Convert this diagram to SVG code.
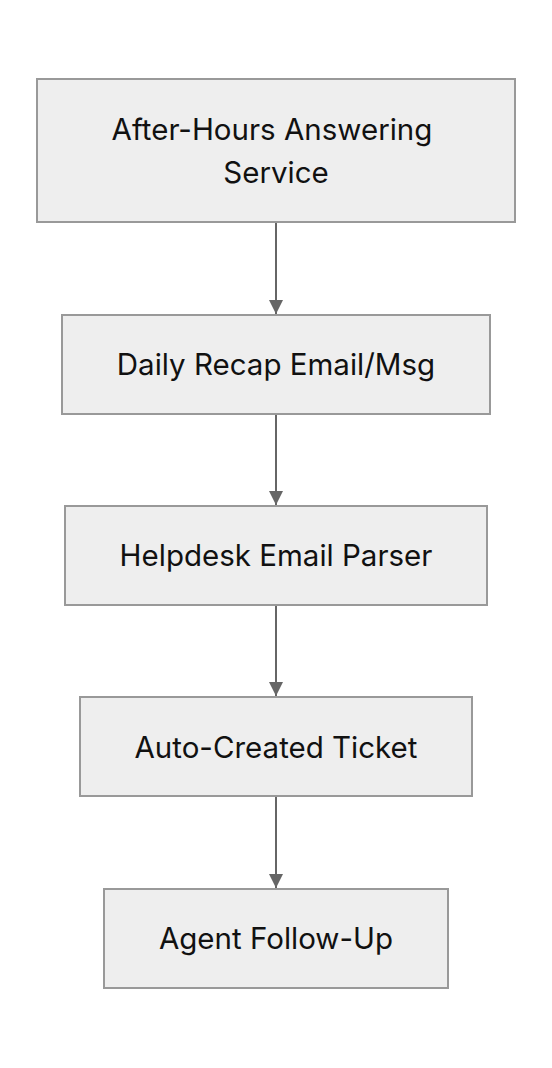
<svg xmlns="http://www.w3.org/2000/svg" width="552" height="1068" viewBox="0 0 552 1068">
<style>
.box{fill:#eeeeee;stroke:#999999;stroke-width:2}
.lbl{font-family:Inter,"Noto Sans",sans-serif;font-size:29.5px;fill:#111111;text-anchor:middle;dominant-baseline:central}
.edge{stroke:#666666;stroke-width:2;fill:none}
.head{fill:#666666}
</style>
<rect width="552" height="1068" fill="#ffffff"/>
<g id="connectors">
<path class="edge" d="M276,223 V314"/>
<path class="edge" d="M276,415 V505"/>
<path class="edge" d="M276,606 V696"/>
<path class="edge" d="M276,797 V888"/>
<polygon class="head" points="269,300 283,300 276,314"/>
<polygon class="head" points="269,491 283,491 276,505"/>
<polygon class="head" points="269,682 283,682 276,696"/>
<polygon class="head" points="269,874 283,874 276,888"/>
</g>
<g id="n1"><rect class="box" x="37" y="79" width="478" height="143"/><text class="lbl" x="272" y="129">After-Hours Answering</text><text class="lbl" x="276" y="172">Service</text></g>
<g id="n2"><rect class="box" x="62" y="315" width="428" height="99"/><text class="lbl" x="276" y="364">Daily Recap Email/Msg</text></g>
<g id="n3"><rect class="box" x="65" y="506" width="422" height="99"/><text class="lbl" x="276" y="555">Helpdesk Email Parser</text></g>
<g id="n4"><rect class="box" x="80" y="697" width="392" height="99"/><text class="lbl" x="276" y="747">Auto-Created Ticket</text></g>
<g id="n5"><rect class="box" x="104" y="889" width="344" height="99"/><text class="lbl" x="276" y="938">Agent Follow-Up</text></g>
</svg>
